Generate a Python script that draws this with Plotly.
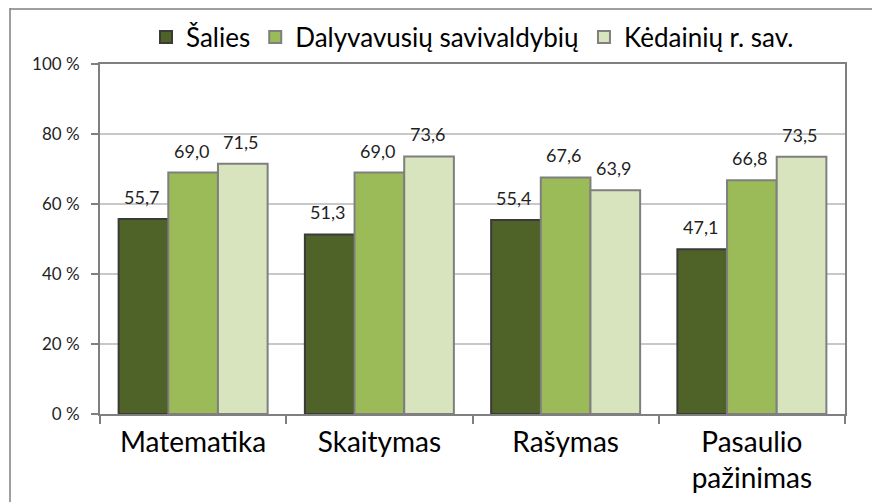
import plotly.graph_objects as go

# Duomenys
dalykai = ["Matematika", "Skaitymas", "Rašymas", "Pasaulio<br>pažinimas"]
salies = [55.7, 51.3, 55.4, 47.1]
dalyvavusiu = [69.0, 69.0, 67.6, 66.8]
kedainiu = [71.5, 73.6, 63.9, 73.5]
y_ticks = [0, 20, 40, 60, 80, 100]

serijos = [
    ("Šalies", salies, "#4f6228", "#3a3a3a"),
    ("Dalyvavusių savivaldybių", dalyvavusiu, "#9bbb59", "#7f7f7f"),
    ("Kėdainių r. sav.", kedainiu, "#d7e4bd", "#7f7f7f"),
]

# stulpelio plotis pikseliais (grupė 745/4 * 0.8 / 3)
stulp_px = 745 / 4 * 0.8 / 3

fig = go.Figure()
for i, (pavadinimas, reiksmes, spalva, kontūras) in enumerate(serijos):
    fig.add_trace(go.Bar(
        x=dalykai,
        y=reiksmes,
        name=pavadinimas,
        marker=dict(color=spalva, line=dict(color=kontūras, width=2)),
        hovertemplate="%{y:.1f}<extra>" + pavadinimas + "</extra>",
    ))
    # reikšmių etiketės virš stulpelių
    for kat, v in zip(dalykai, reiksmes):
        fig.add_annotation(
            x=kat, y=v,
            text=f"{v:.1f}".replace(".", ","),
            showarrow=False,
            xshift=(i - 1) * stulp_px - 2,
            yshift=9,
            yanchor="bottom",
            font=dict(size=18, color="#1f1f1f"),
        )

# Išorinis rėmelis (kaip originale)
fig.add_shape(type="line", xref="paper", yref="paper",
              x0=-0.1208, x1=1.2, y0=1.157, y1=1.157,
              line=dict(color="#7f7f7f", width=1.5))
fig.add_shape(type="line", xref="paper", yref="paper",
              x0=-0.1208, x1=-0.1208, y0=1.16, y1=-0.4,
              line=dict(color="#7f7f7f", width=1.5))

fig.update_layout(
    width=880, height=502,
    margin=dict(l=92, r=43, t=56, b=96, autoexpand=False),
    paper_bgcolor="white",
    plot_bgcolor="white",
    barmode="group",
    bargap=0.2,
    bargroupgap=0,
    font=dict(family="Lato, 'Open Sans', sans-serif", color="#1f1f1f"),
    legend=dict(
        orientation="h",
        x=0.5, xanchor="center",
        y=1.077, yanchor="middle",
        font=dict(size=26, color="#000000"),
        bgcolor="rgba(0,0,0,0)",
        traceorder="normal",
    ),
)

fig.update_yaxes(
    range=[0, 100],
    tickvals=y_ticks,
    ticktext=[f"{v} %" for v in y_ticks],
    tickfont=dict(size=17, color="#1f1f1f"),
    showgrid=True, gridcolor="#c8c8c8", gridwidth=2,
    showline=True, linecolor="#7f7f7f", linewidth=2, mirror=True,
    ticks="outside", ticklen=7, tickcolor="#7f7f7f", tickwidth=2,
    ticklabelstandoff=8,
    zeroline=False, automargin=False,
)
fig.update_xaxes(
    tickfont=dict(size=28, color="#000000"),
    showline=True, linecolor="#7f7f7f", linewidth=2, mirror=True,
    ticks="outside", tickson="boundaries", ticklen=8, tickcolor="#7f7f7f", tickwidth=2,
    ticklabelstandoff=2,
    automargin=False,
)

fig.write_html("out.html")
